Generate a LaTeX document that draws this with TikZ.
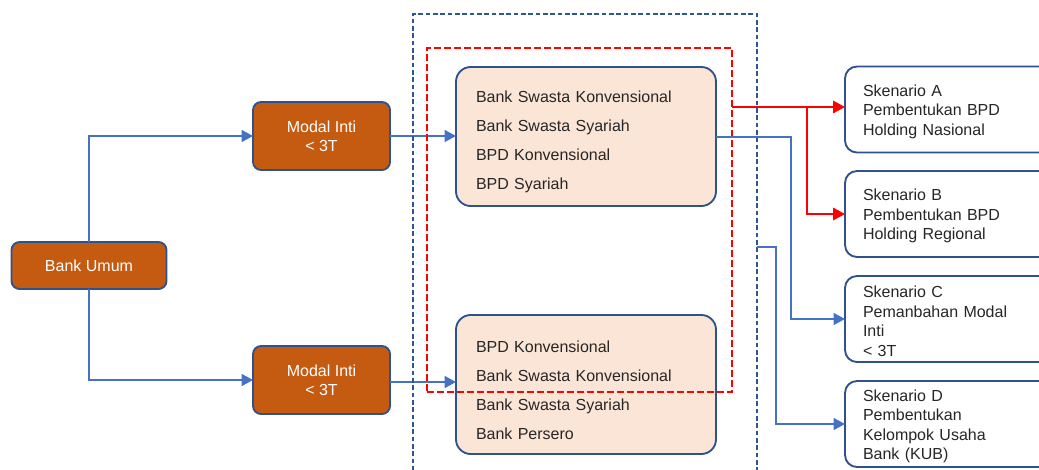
\documentclass[tikz,border=0pt]{standalone}
\usepackage{fontspec}
\setmainfont{Liberation Sans}
\usetikzlibrary{arrows.meta,calc}
\definecolor{orng}{HTML}{C55A11}
\definecolor{bdr}{HTML}{2F528F}
\definecolor{pinkf}{HTML}{FBE5D6}
\definecolor{lnblue}{HTML}{4472C4}
\definecolor{dashblue}{HTML}{2F5597}
\definecolor{txt}{HTML}{262626}
\tikzset{
  orangebox/.style={draw=bdr, fill=orng, line width=1.4pt, rounded corners=6pt,
    text=white, font=\fontsize{12}{14.25}\selectfont, align=center, inner sep=0pt, outer sep=0pt},
  pinkbox/.style={draw=bdr, fill=pinkf, line width=1.4pt, rounded corners=11pt,
    text=txt, font=\fontsize{12}{21.75}\selectfont, align=left, inner xsep=15pt, inner ysep=0pt,
    text width=165pt, minimum height=104.25pt, outer sep=0pt,
    execute at begin node={\rule{0pt}{17pt}}},
  scenbox/.style={draw=bdr, fill=white, line width=1.4pt, rounded corners=9pt,
    text=txt, font=\fontsize{12}{14.6}\selectfont, align=left, inner xsep=13.5pt, inner ysep=0pt,
    text width=130.5pt, minimum height=64.5pt, outer sep=0pt,
    execute at begin node={\rule{0pt}{12pt}}},
  dashbox/.style={draw, line width=1.3pt, inner sep=0pt, outer sep=0pt},
  bluearrow/.style={draw=lnblue, line width=0.9pt, -{Triangle[length=8.5pt,width=9pt]}},
  redarrow/.style={draw=red, line width=0.9pt, -{Triangle[length=9pt,width=9.5pt]}},
}
\begin{document}
\begin{tikzpicture}[x=0.75pt,y=-0.75pt]
\useasboundingbox (0,0) rectangle (1039,469);
% left nodes
\node[orangebox, minimum width=116.25pt, minimum height=35.25pt] (bu) at (89,265.5) {Bank Umum};
\node[orangebox, minimum width=102.75pt, minimum height=51pt] (mi1) at (321.5,136) {Modal Inti\\< 3T};
\node[orangebox, minimum width=102.75pt, minimum height=51pt] (mi2) at (321.5,380) {Modal Inti\\< 3T};
% connectors left (under the dashed frames)
\draw[bluearrow] (bu.north) |- (mi1.west);
\draw[bluearrow] (bu.south) |- (mi2.west);
% pink boxes
\node[pinkbox] (p1) at (586,136.5) {Bank Swasta Konvensional\\Bank Swasta Syariah\\BPD Konvensional\\BPD Syariah};
\node[pinkbox] (p2) at (586,384.5) {BPD Konvensional\\Bank Swasta Konvensional\\Bank Swasta Syariah\\Bank Persero};
\draw[bluearrow] (mi1.east) -- (mi1.east -| p1.west);
\draw[bluearrow] (mi2.east |- 0,382) -- (p2.west |- 0,382);
% dashed boxes
\node[dashbox, draw=dashblue, dash pattern=on 3.5pt off 2pt, minimum width=258pt, minimum height=349.5pt] (bb) at (585,247) {};
\node[dashbox, draw=red, dash pattern=on 5pt off 2.5pt, minimum width=228.75pt, minimum height=258pt] (rb) at (579.5,220) {};
% scenario boxes
\node[scenbox] (A) at (950,109.5) {Skenario A\\Pembentukan BPD\\Holding Nasional};
\node[scenbox] (B) at (950,214) {Skenario B\\Pembentukan BPD\\Holding Regional};
\node[scenbox] (C) at (950,319) {Skenario C\\Pemanbahan Modal\\Inti\\< 3T};
\node[scenbox] (D) at (950,424) {Skenario D\\Pembentukan\\Kelompok Usaha\\Bank (KUB)};
% red connectors
\coordinate (rsplit) at (807,107);
\draw[redarrow] (rb.east |- rsplit) -- (A.west |- rsplit);
\draw[redarrow] (rsplit) |- (B.west);
% blue connectors to C and D
\coordinate (csplit) at (791,137);
\draw[bluearrow] (p1.east |- csplit) -- (csplit) |- (C.west);
\coordinate (dsplit) at (776,247);
\draw[bluearrow] (bb.east) -- (dsplit) |- (D.west);
\end{tikzpicture}
\end{document}
